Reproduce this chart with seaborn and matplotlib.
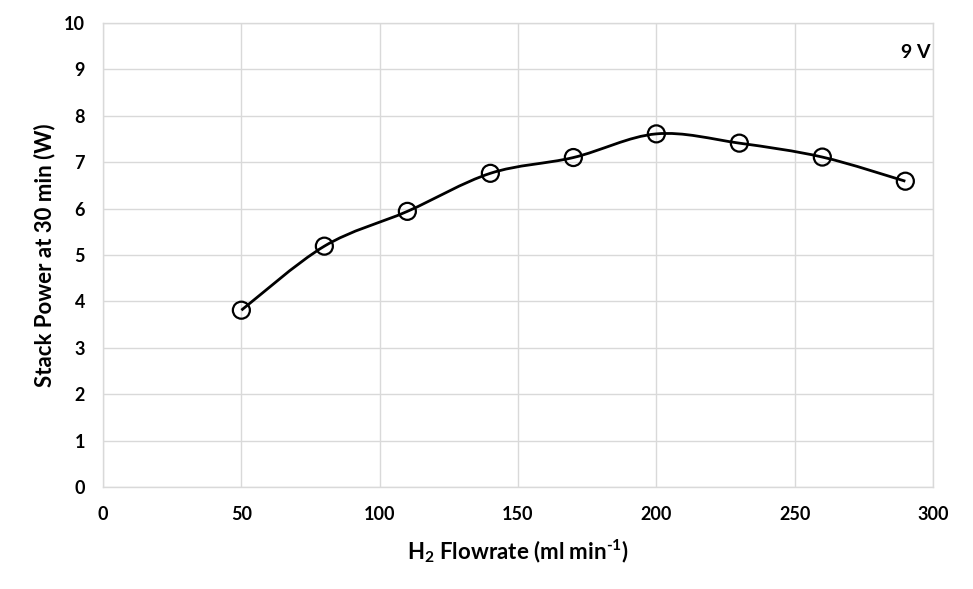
import numpy as np
import pandas as pd
import matplotlib
matplotlib.use("Agg")
import matplotlib.pyplot as plt
from matplotlib.path import Path
from matplotlib.patches import PathPatch
import seaborn as sns

flowrate = [50, 80, 110, 140, 170, 200, 230, 260, 290]
power = [3.81, 5.19, 5.94, 6.76, 7.10, 7.61, 7.41, 7.11, 6.59]
x_ticks = [0, 50, 100, 150, 200, 250, 300]
y_ticks = [0, 1, 2, 3, 4, 5, 6, 7, 8, 9, 10]

sns.set_theme(style="white")
plt.rcParams['font.family'] = ['Lato', 'DejaVu Sans']
plt.rcParams['font.weight'] = 'bold'
plt.rcParams['mathtext.fontset'] = 'custom'
plt.rcParams['mathtext.rm'] = 'Lato:bold'
plt.rcParams['mathtext.bf'] = 'Lato:bold'
plt.rcParams['mathtext.it'] = 'Lato:bold'
plt.rcParams['text.color'] = 'black'
plt.rcParams['axes.labelcolor'] = 'black'

fig = plt.figure(figsize=(9.73, 5.89), dpi=100)
ax = fig.add_axes([0.1059, 0.1732, 0.8530, 0.7878])

df = pd.DataFrame({"x": flowrate, "y": power})

# Excel-style smoothed line: cubic Bezier with Catmull-Rom control points
pts = np.column_stack([flowrate, power]).astype(float)
n = len(pts)
verts = [tuple(pts[0])]
codes = [Path.MOVETO]
for i in range(n - 1):
    p0 = pts[i - 1] if i > 0 else pts[i]
    p1 = pts[i]
    p2 = pts[i + 1]
    p3 = pts[i + 2] if i + 2 < n else pts[i + 1]
    c1 = p1 + (p2 - p0) / 6.0
    c2 = p2 - (p3 - p1) / 6.0
    verts += [tuple(c1), tuple(c2), tuple(p2)]
    codes += [Path.CURVE4] * 3
ax.add_patch(PathPatch(Path(verts, codes), facecolor='none', edgecolor='black', lw=2.0, zorder=3))

sns.scatterplot(data=df, x="x", y="y", ax=ax, marker='o', s=150,
                facecolor='none', edgecolor='black', linewidth=1.6, zorder=4)

ax.set_xlim(0, 300)
ax.set_ylim(0, 10)
ax.set_xticks(x_ticks)
ax.set_yticks(y_ticks)
ax.grid(True, color='#d9d9d9', linewidth=1.0)
for s in ax.spines.values():
    s.set_color('#d9d9d9')
    s.set_linewidth(1.0)
ax.tick_params(axis='x', length=0, labelsize=13, pad=14, labelcolor='black')
ax.tick_params(axis='y', length=0, labelsize=13, pad=13, labelcolor='black')
for lbl in ax.get_xticklabels() + ax.get_yticklabels():
    lbl.set_fontweight('bold')

ax.set_xlabel("H$_{2}$ Flowrate (ml min$^{\\text{-}1}$)", fontsize=16, fontweight='bold',
              labelpad=10, color='black')
ax.set_ylabel("Stack Power at 30 min (W)", fontsize=16, fontweight='bold',
              labelpad=6, color='black')
ax.text(0.997, 0.955, "9 V", transform=ax.transAxes, ha='right', va='top',
        fontsize=14, fontweight='bold', color='black')

fig.savefig("out.png", dpi=100)
